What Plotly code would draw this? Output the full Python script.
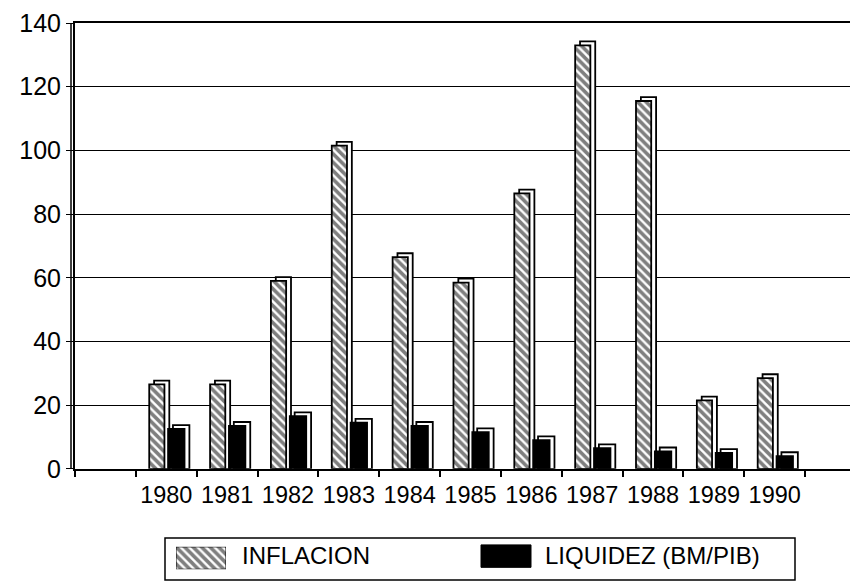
import plotly.graph_objects as go

# data
years = [1980, 1981, 1982, 1983, 1984, 1985, 1986, 1987, 1988, 1989, 1990]
year_labels = [str(y) for y in years]
inflacion = [26.5, 26.5, 59, 101.5, 66.5, 58.5, 86.5, 133, 115.5, 21.5, 28.5]
liquidez = [12.5, 13.5, 16.5, 14.5, 13.5, 11.5, 9, 6.5, 5.5, 5, 4]
y_ticks = [0, 20, 40, 60, 80, 100, 120, 140]

FONT = "Liberation Sans"
DEPTH = 1.2      # fake 3d depth, in y units
Y0 = (587 - 472) / 572  # bottom of the plot area in paper units

hatch = dict(shape="\\", fgcolor="black", bgcolor="white", size=6, solidity=0.6)

fig = go.Figure()

# back faces (the 3d look), drawn first
fig.add_trace(go.Bar(
    x=years, y=[v + DEPTH for v in inflacion], offset=-0.20, width=0.25,
    marker=dict(color="white", line=dict(color="black", width=1.8)),
    hoverinfo="skip", showlegend=False,
))
fig.add_trace(go.Bar(
    x=years, y=inflacion, offset=-0.28, width=0.25, name="INFLACION",
    marker=dict(color="white", pattern=hatch, line=dict(color="black", width=1.8)),
    showlegend=False,
))
fig.add_trace(go.Bar(
    x=years, y=[v + DEPTH for v in liquidez], offset=0.11, width=0.27,
    marker=dict(color="white", line=dict(color="black", width=1.8)),
    hoverinfo="skip", showlegend=False,
))
fig.add_trace(go.Bar(
    x=years, y=liquidez, offset=0.03, width=0.27, name="LIQUIDEZ (BM/PIB)",
    marker=dict(color="black", line=dict(color="black", width=1.8)),
    showlegend=False,
))

# hatched legend swatch, on its own little axes
fig.add_trace(go.Bar(
    x=[0], y=[1], width=1, xaxis="x2", yaxis="y2",
    marker=dict(color="white", pattern=dict(shape="\\", fgcolor="black", bgcolor="white",
                                            size=6, solidity=0.6),
                line=dict(color="black", width=1)),
    hoverinfo="skip", showlegend=False,
))

fig.update_layout(
    width=858, height=587,
    margin=dict(l=67, r=0, t=15, b=0),
    paper_bgcolor="white", plot_bgcolor="white",
    font=dict(family=FONT, color="black", size=24),
    barmode="overlay",
    showlegend=False,
    xaxis=dict(
        range=[1978.5, 1991.5],
        tickmode="array", tickvals=years, ticktext=year_labels,
        ticks="", showgrid=False, zeroline=False,
        showline=True, linecolor="black", linewidth=2, mirror=True,
        tickfont=dict(size=23.5), ticklabelstandoff=4,
        minor=dict(tickmode="linear", tick0=1979.5, dtick=1, ticks="outside",
                   ticklen=6, tickcolor="black", tickwidth=1.5, showgrid=False),
    ),
    yaxis=dict(
        domain=[Y0, 1], range=[0, 140],
        tickmode="array", tickvals=y_ticks,
        ticks="outside", ticklen=7, tickcolor="black",
        showgrid=True, gridcolor="black", gridwidth=1.2,
        zeroline=False, showline=True, linecolor="black", linewidth=2,
        tickfont=dict(size=25),
    ),
    xaxis2=dict(domain=[(168 - 67) / 791, (218 - 67) / 791], range=[-0.5, 0.5],
                visible=False, anchor="y2", fixedrange=True),
    yaxis2=dict(domain=[(587 - 575) / 572, (587 - 552) / 572], range=[0, 1],
                visible=False, anchor="x2", fixedrange=True),
)

# second line of the doubled y axis
fig.add_shape(type="line", xref="paper", yref="paper", xsizemode="pixel", xanchor=0,
              x0=-4, x1=-4, y0=Y0, y1=1, line=dict(color="black", width=1.5))

# legend box, black swatch and texts
fig.add_shape(type="rect", xref="paper", yref="paper",
              x0=(157 - 67) / 791, x1=(787 - 67) / 791,
              y0=0.002, y1=(587 - 543) / 572,
              line=dict(color="black", width=1.5), fillcolor="rgba(0,0,0,0)")
fig.add_shape(type="rect", xref="paper", yref="paper",
              x0=(473 - 67) / 791, x1=(523 - 67) / 791,
              y0=(587 - 573) / 572, y1=(587 - 550) / 572,
              line=dict(color="black", width=1), fillcolor="black")
fig.add_annotation(text="INFLACION", xref="paper", yref="paper",
                   x=(232 - 67) / 791, y=(587 - 561) / 572,
                   xanchor="left", yanchor="middle", showarrow=False,
                   font=dict(size=24))
fig.add_annotation(text="LIQUIDEZ (BM/PIB)", xref="paper", yref="paper",
                   x=(535 - 67) / 791, y=(587 - 561) / 572,
                   xanchor="left", yanchor="middle", showarrow=False,
                   font=dict(size=24))

fig.write_html("out.html")
